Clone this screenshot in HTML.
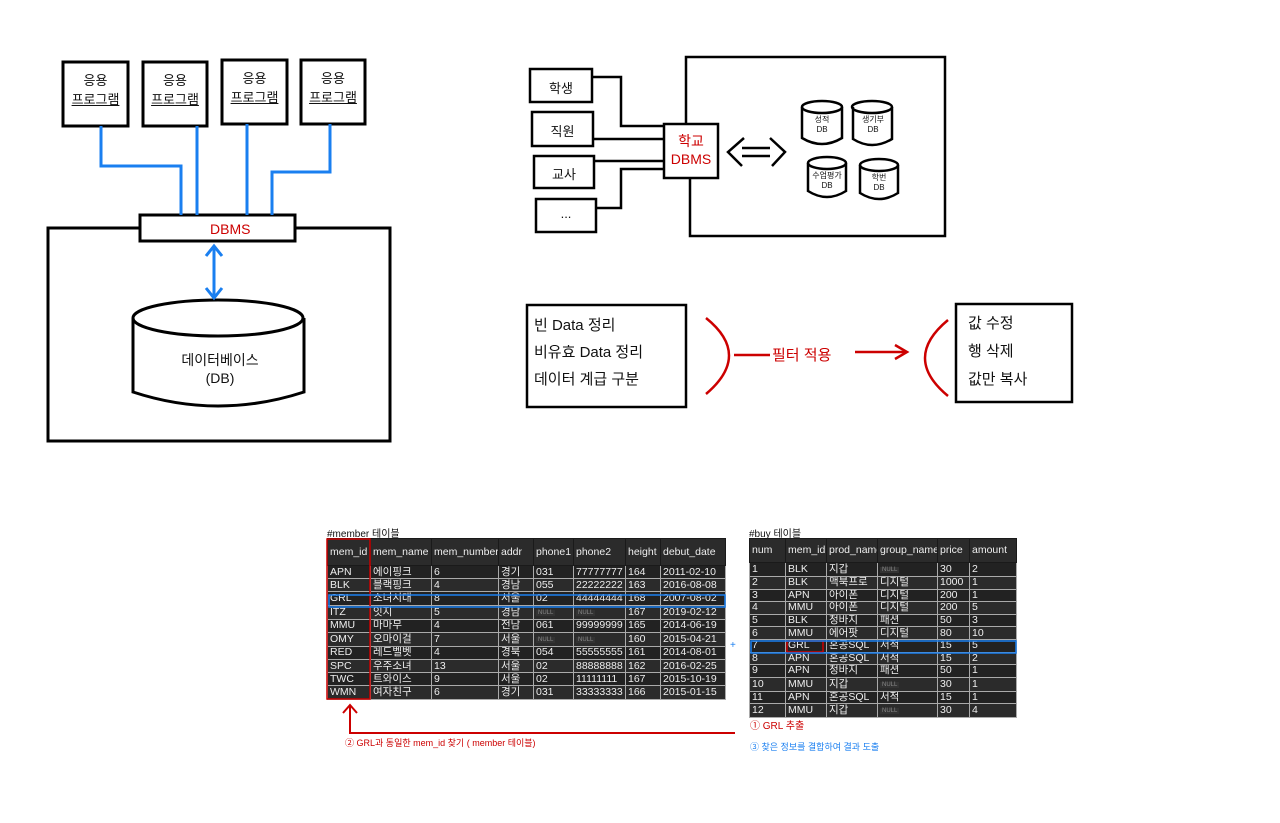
<!DOCTYPE html>
<html><head><meta charset="utf-8"><style>
body{margin:0;width:1280px;height:823px;background:#fff;position:relative;overflow:hidden;font-family:"Liberation Sans","Noto Sans CJK KR",sans-serif}
svg{position:absolute;left:0;top:0}
.t{position:absolute;font-size:13px;color:#111;text-align:center}
table{position:absolute;border-collapse:collapse;background:#222;color:#eee;font-size:10.5px;table-layout:fixed;font-family:"Liberation Sans","Noto Sans CJK KR",sans-serif}
td{border:1px solid #aaa;padding:0 2px;white-space:nowrap;overflow:hidden;line-height:11px}
#m td{height:12.2px}
#b td{height:11.6px}
#m tr.h td{height:26px}
#b tr.h td{height:23px}
tr.h td{background:#1a1a1a;border-color:#1a1a1a;color:#eee;font-size:10.5px}
tr:nth-child(odd) td{background:#2b2b2b}
.n{font-size:6px;color:#888;background:#333;padding:0 2px}
</style></head><body>
<svg width="1280" height="823" viewBox="0 0 1280 823">
<g fill="none" stroke="#000" stroke-width="3">
<rect x="63" y="62" width="65" height="64"/><rect x="143" y="62" width="64" height="64"/>
<rect x="222" y="60" width="65" height="64"/><rect x="301" y="60" width="64" height="64"/>
<rect x="48" y="228" width="342" height="213"/>
<rect x="140" y="215" width="155" height="26" fill="#fff"/>
<path d="M133 318 L133 392 Q218 420 304 392 L304 318"/>
<ellipse cx="218" cy="318" rx="85" ry="18"/>
</g>
<g fill="none" stroke="#1a7ff0" stroke-width="3">
<path d="M101 126 V166 H181 V215"/><path d="M197 126 V215"/>
<path d="M247 124 V215"/><path d="M330 124 V172 H272 V215"/>
<path d="M214 248 V296"/><path d="M206 256 L214 246 L222 256"/><path d="M206 288 L214 298 L222 288"/>
</g>
<g fill="none" stroke="#000" stroke-width="2.5">
<rect x="530" y="69" width="62" height="33"/><rect x="532" y="112" width="61" height="34"/>
<rect x="534" y="156" width="60" height="32"/><rect x="536" y="199" width="60" height="33"/>
<path d="M686 124 V57 H945 V236 H690 V178"/>
<rect x="664" y="124" width="54" height="54" fill="#fff"/>
<path d="M592 77 H621 V126 H664"/><path d="M593 139 H664"/><path d="M594 161 H664"/><path d="M596 208 H621 V169 H664"/>
<path d="M744 138 L728 152 L742 166"/><path d="M742 148 H770 M742 156 H770"/><path d="M770 138 L785 152 L772 166"/>
<path d="M802 107 V138 Q822 150 842 138 V107"/><ellipse cx="822" cy="107" rx="20" ry="6"/>
<path d="M853 107 V139 Q872 151 892 139 V107"/><ellipse cx="872" cy="107" rx="20" ry="6"/>
<path d="M808 163 V191 Q827 203 846 191 V163"/><ellipse cx="827" cy="163" rx="19" ry="6"/>
<path d="M860 165 V193 Q879 205 898 193 V165"/><ellipse cx="879" cy="165" rx="19" ry="6"/>
<rect x="527" y="305" width="159" height="102"/><rect x="956" y="304" width="116" height="98"/>
</g>
<g fill="none" stroke="#c00" stroke-width="2.5">
<path d="M706 318 Q752 355 706 394"/><path d="M734 355 H770"/><path d="M855 352 H905"/><path d="M895 345 L907 352 L895 359"/>
<path d="M948 320 Q902 358 948 396"/>
</g>
<text x="730" y="648" fill="#1a7ff0" font-size="10">+</text>
</svg>
<div class="t" style="left:63px;top:70px;width:65px">응용<br><u>프로그램</u></div>
<div class="t" style="left:143px;top:70px;width:64px">응용<br><u>프로그램</u></div>
<div class="t" style="left:222px;top:68px;width:65px">응용<br><u>프로그램</u></div>
<div class="t" style="left:301px;top:68px;width:64px">응용<br><u>프로그램</u></div>
<div class="t" style="left:210px;top:221px;color:#c00;font-size:14px">DBMS</div>
<div class="t" style="left:140px;top:350px;width:160px;font-size:14px">데이터베이스<br>(DB)</div>
<div class="t" style="left:530px;top:78px;width:62px">학생</div>
<div class="t" style="left:532px;top:121px;width:61px">직원</div>
<div class="t" style="left:534px;top:164px;width:60px">교사</div>
<div class="t" style="left:536px;top:206px;width:60px">...</div>
<div class="t" style="left:664px;top:131px;width:54px;color:#c00;font-size:14px">학교<br>DBMS</div>
<div class="t" style="left:802px;top:114px;width:40px;font-size:8px">성적<br>DB</div>
<div class="t" style="left:853px;top:114px;width:40px;font-size:8px">생기부<br>DB</div>
<div class="t" style="left:808px;top:170px;width:38px;font-size:8px">수업평가<br>DB</div>
<div class="t" style="left:860px;top:172px;width:38px;font-size:8px">학번<br>DB</div>
<div class="t" style="left:534px;top:312px;text-align:left;font-size:15px;line-height:27px">빈 Data 정리<br>비유효 Data 정리<br>데이터 계급 구분</div>
<div class="t" style="left:772px;top:344px;color:#c00;font-size:15px">필터 적용</div>
<div class="t" style="left:968px;top:310px;text-align:left;font-size:15px;line-height:28px">값 수정<br>행 삭제<br>값만 복사</div>
<div class="t" style="left:327px;top:525px;font-size:10px">#member 테이블</div>
<div class="t" style="left:749px;top:525px;font-size:10px">#buy 테이블</div>
<table id="m" style="left:327px;top:538px;width:398px">
<colgroup><col style="width:43px"><col style="width:61px"><col style="width:67px"><col style="width:35px"><col style="width:40px"><col style="width:52px"><col style="width:35px"><col style="width:65px"></colgroup>
<tr class="h"><td>mem_id</td><td>mem_name</td><td>mem_number</td><td>addr</td><td>phone1</td><td>phone2</td><td>height</td><td>debut_date</td></tr>
<tr><td>APN</td><td>에이핑크</td><td>6</td><td>경기</td><td>031</td><td>77777777</td><td>164</td><td>2011-02-10</td></tr>
<tr><td>BLK</td><td>블랙핑크</td><td>4</td><td>경남</td><td>055</td><td>22222222</td><td>163</td><td>2016-08-08</td></tr>
<tr><td>GRL</td><td>소녀시대</td><td>8</td><td>서울</td><td>02</td><td>44444444</td><td>168</td><td>2007-08-02</td></tr>
<tr><td>ITZ</td><td>잇지</td><td>5</td><td>경남</td><td><span class="n">NULL</span></td><td><span class="n">NULL</span></td><td>167</td><td>2019-02-12</td></tr>
<tr><td>MMU</td><td>마마무</td><td>4</td><td>전남</td><td>061</td><td>99999999</td><td>165</td><td>2014-06-19</td></tr>
<tr><td>OMY</td><td>오마이걸</td><td>7</td><td>서울</td><td><span class="n">NULL</span></td><td><span class="n">NULL</span></td><td>160</td><td>2015-04-21</td></tr>
<tr><td>RED</td><td>레드벨벳</td><td>4</td><td>경북</td><td>054</td><td>55555555</td><td>161</td><td>2014-08-01</td></tr>
<tr><td>SPC</td><td>우주소녀</td><td>13</td><td>서울</td><td>02</td><td>88888888</td><td>162</td><td>2016-02-25</td></tr>
<tr><td>TWC</td><td>트와이스</td><td>9</td><td>서울</td><td>02</td><td>11111111</td><td>167</td><td>2015-10-19</td></tr>
<tr><td>WMN</td><td>여자친구</td><td>6</td><td>경기</td><td>031</td><td>33333333</td><td>166</td><td>2015-01-15</td></tr>
</table>
<table id="b" style="left:749px;top:538px;width:267px">
<colgroup><col style="width:36px"><col style="width:41px"><col style="width:51px"><col style="width:60px"><col style="width:32px"><col style="width:47px"></colgroup>
<tr class="h"><td>num</td><td>mem_id</td><td>prod_name</td><td>group_name</td><td>price</td><td>amount</td></tr>
<tr><td>1</td><td>BLK</td><td>지갑</td><td><span class="n">NULL</span></td><td>30</td><td>2</td></tr>
<tr><td>2</td><td>BLK</td><td>맥북프로</td><td>디지털</td><td>1000</td><td>1</td></tr>
<tr><td>3</td><td>APN</td><td>아이폰</td><td>디지털</td><td>200</td><td>1</td></tr>
<tr><td>4</td><td>MMU</td><td>아이폰</td><td>디지털</td><td>200</td><td>5</td></tr>
<tr><td>5</td><td>BLK</td><td>청바지</td><td>패션</td><td>50</td><td>3</td></tr>
<tr><td>6</td><td>MMU</td><td>에어팟</td><td>디지털</td><td>80</td><td>10</td></tr>
<tr><td>7</td><td>GRL</td><td>혼공SQL</td><td>서적</td><td>15</td><td>5</td></tr>
<tr><td>8</td><td>APN</td><td>혼공SQL</td><td>서적</td><td>15</td><td>2</td></tr>
<tr><td>9</td><td>APN</td><td>청바지</td><td>패션</td><td>50</td><td>1</td></tr>
<tr><td>10</td><td>MMU</td><td>지갑</td><td><span class="n">NULL</span></td><td>30</td><td>1</td></tr>
<tr><td>11</td><td>APN</td><td>혼공SQL</td><td>서적</td><td>15</td><td>1</td></tr>
<tr><td>12</td><td>MMU</td><td>지갑</td><td><span class="n">NULL</span></td><td>30</td><td>4</td></tr>
</table>
<svg width="1280" height="823" viewBox="0 0 1280 823">
<g fill="none" stroke="#c00">
<rect x="327" y="539" width="43" height="160" stroke-width="1.5"/>
<rect x="787" y="641" width="36" height="11" stroke-width="1.5"/>
<path d="M735 733 H350 V706" stroke-width="2"/><path d="M343 713 L350 705 L357 713" stroke-width="2"/>
</g>
<g fill="none" stroke="#1a7ff0" stroke-width="1.5">
<rect x="329" y="595" width="396" height="12"/><rect x="751" y="641" width="265" height="12"/>
</g>
</svg>
<div class="t" style="left:750px;top:717px;color:#c00;font-size:10px">① GRL 추출</div>
<div class="t" style="left:750px;top:740px;color:#1a7ff0;font-size:9px">③ 찾은 정보를 결합하여 결과 도출</div>
<div class="t" style="left:345px;top:736px;color:#c00;font-size:9px">② GRL과 동일한 mem_id 찾기 ( member 테이블)</div>
</body></html>
